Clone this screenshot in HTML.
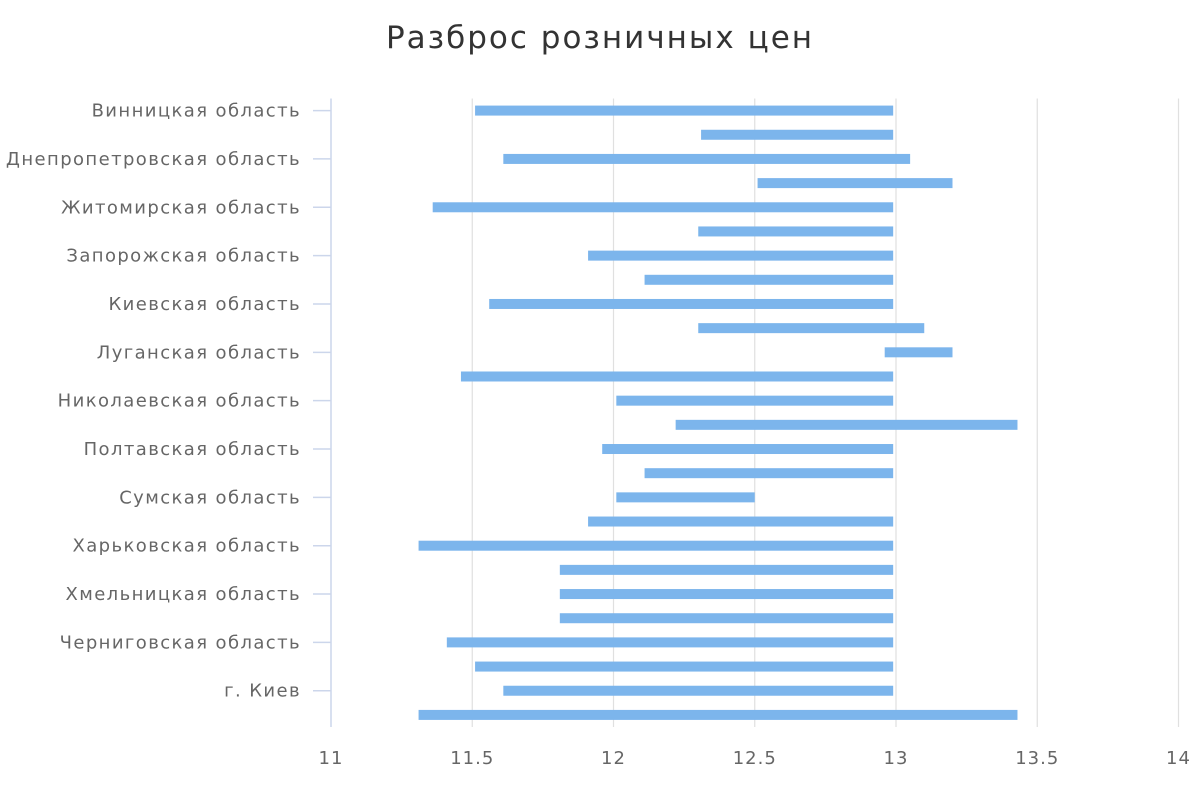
<!DOCTYPE html>
<html><head><meta charset="utf-8"><style>
body{margin:0;background:#fff;font-family:"Liberation Sans","DejaVu Sans",sans-serif;}
svg text{font-family:"DejaVu Sans","Liberation Sans",sans-serif;}
</style></head><body>
<svg id="chart" width="1200" height="800">
<text x="600" y="48" text-anchor="middle" font-size="31" letter-spacing="2" fill="#333">Разброс розничных цен</text>
<g id="grid"></g><g id="bars"></g><g id="yaxis"></g><g id="xaxis"></g>
</svg>
<script>
const categories=["Винницкая область","Волынская область","Днепропетровская область","Донецкая область","Житомирская область","Закарпатская область","Запорожская область","Ивано-Франковская область","Киевская область","Кировоградская область","Луганская область","Львовская область","Николаевская область","Одесская область","Полтавская область","Ровенская область","Сумская область","Тернопольская область","Харьковская область","Херсонская область","Хмельницкая область","Черкасская область","Черниговская область","Черновицкая область","г. Киев","Украина"];
const lows=[11.51,12.31,11.61,12.51,11.36,12.3,11.91,12.11,11.56,12.3,12.96,11.46,12.01,12.22,11.96,12.11,12.01,11.91,11.31,11.81,11.81,11.81,11.41,11.51,11.61,11.31];
const highs=[12.99,12.99,13.05,13.2,12.99,12.99,12.99,12.99,12.99,13.1,13.2,12.99,12.99,13.43,12.99,12.99,12.5,12.99,12.99,12.99,12.99,12.99,12.99,12.99,12.99,13.43];
const xTicks=[11,11.5,12,12.5,13,13.5,14];
const NS="http://www.w3.org/2000/svg";
const x0=331,x1=1178.5,xmin=11,xmax=14,plotTop=98.5,plotBottom=727;
const band=(plotBottom-plotTop)/categories.length;
function X(v){return x0+(v-xmin)/(xmax-xmin)*(x1-x0);}
function Y(i){return plotTop+band*(i+0.5);}
function mk(tag,attrs,parent){const e=document.createElementNS(NS,tag);for(const k in attrs)e.setAttribute(k,attrs[k]);document.getElementById(parent).appendChild(e);return e;}
xTicks.forEach(t=>{
  if(t>xmin){const g=mk('line',{x1:X(t),x2:X(t),y1:plotTop,y2:plotBottom,stroke:'#e0e0e0','stroke-width':1.2},'grid');
  
  }
  const l=mk('text',{x:X(t),y:764,'text-anchor':'middle','font-size':18,'letter-spacing':1,fill:'#666'},'xaxis');
  l.textContent=String(t);
  
  
});
const ax=mk('line',{x1:x0,x2:x0,y1:plotTop,y2:plotBottom,stroke:'#ccd6eb','stroke-width':1.5},'yaxis');


categories.forEach((c,i)=>{
  const r=mk('rect',{x:X(lows[i]),y:Y(i)-5,width:X(highs[i])-X(lows[i]),height:10,fill:'#7cb5ec'},'bars');
  
  
  if(i%2===0){
    const tk=mk('line',{x1:313,x2:x0,y1:Y(i),y2:Y(i),stroke:'#ccd6eb','stroke-width':1.5},'yaxis');
    
    
    const t=mk('text',{x:301,y:Y(i)+6,'text-anchor':'end','font-size':18,'letter-spacing':1.4,fill:'#666'},'yaxis');
    t.textContent=c;
    
    
  }
});
</script>
</body></html>
